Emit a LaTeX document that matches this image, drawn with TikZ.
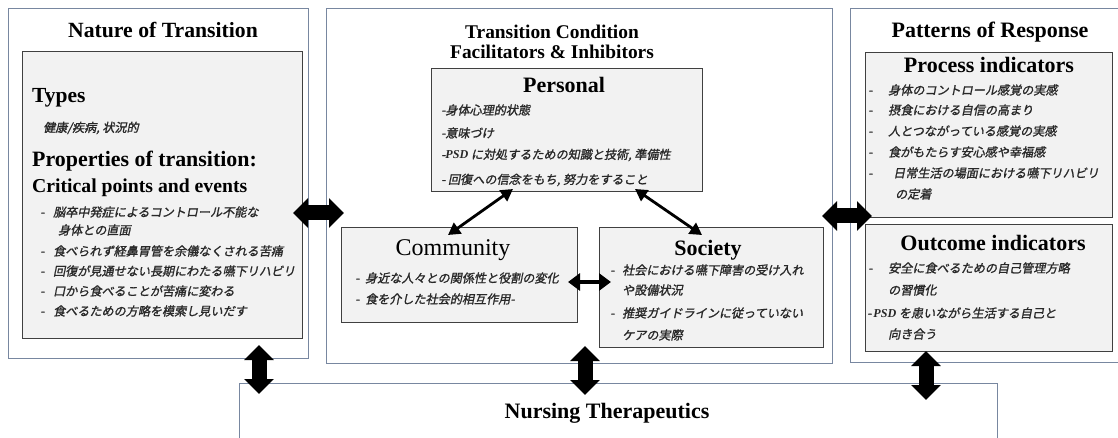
\documentclass[tikz,border=0pt]{standalone}
\usepackage{fontspec}
\setmainfont{Liberation Serif}
\newfontfamily\jp{Noto Sans CJK JP}[FakeSlant=0.2,FakeBold=1.3]
\usetikzlibrary{arrows.meta}
\definecolor{bord}{RGB}{120,135,160}
\definecolor{boxfill}{RGB}{242,242,242}
\definecolor{boxline}{RGB}{64,64,64}
\definecolor{jtext}{RGB}{40,40,40}
\newcommand\dsh{\makebox[13pt][l]{-}}
\newcommand\dshw{\makebox[20pt][l]{-}}
\newcommand\dshc{\makebox[10pt][l]{-}}
\newcommand\psd{{\rmfamily\bfseries\itshape PSD}}
\begin{document}
\begin{tikzpicture}[x=1pt,y=-1pt,
  outerbox/.style={draw=bord,line width=1.2pt,anchor=north west,inner sep=0pt},
  innerbox/.style={draw=boxline,fill=boxfill,line width=1.2pt,anchor=north west,inner sep=0pt},
  jt/.style={anchor=west,inner sep=0pt,text=jtext,font=\jp\fontsize{12.1}{14}\selectfont},
  head/.style={inner sep=0pt,font=\bfseries\fontsize{22}{24}\selectfont},
  fat/.style={line width=15pt,{Triangle[length=15pt,width=29pt]}-{Triangle[length=15pt,width=29pt]}},
  thin/.style={line width=2.8pt,{Triangle[length=12pt,width=13pt]}-{Triangle[length=12pt,width=13pt]}},
  thick/.style={line width=4pt,{Triangle[length=12pt,width=17pt]}-{Triangle[length=12pt,width=17pt]}}]
\useasboundingbox (0,0) rectangle (1118,438);
\fill[white] (0,0) rectangle (1118,438);

% outer boxes
\node[outerbox,minimum width=300pt,minimum height=350pt] (nature) at (8,8) {};
\node[outerbox,minimum width=506pt,minimum height=355pt] (cond) at (326,8) {};
\node[outerbox,minimum width=290pt,minimum height=354pt] (resp) at (850,8) {};
\node[outerbox,minimum width=758pt,minimum height=80pt] (nursing) at (239,383) {};

% inner boxes
\node[innerbox,minimum width=280pt,minimum height=287pt] (natin) at (22,51) {};
\node[innerbox,minimum width=271pt,minimum height=123pt] (personal) at (431,68) {};
\node[innerbox,minimum width=236pt,minimum height=95pt] (community) at (341,227) {};
\node[innerbox,minimum width=224pt,minimum height=120pt] (society) at (599,227) {};
\node[innerbox,minimum width=247pt,minimum height=165pt] (process) at (865,52) {};
\node[innerbox,minimum width=247pt,minimum height=127pt] (outcome) at (865,224) {};

% left column texts
\node[head,font=\bfseries\fontsize{21.7}{24}\selectfont] (tnat) at (163,30) {Nature of Transition};
\node[head,anchor=base west,font=\bfseries\fontsize{21.5}{24}\selectfont] (ttypes) at (32,103) {Types};
\node[jt] (j0) at (43,128) {健康/疾病, 状況的};
\node[head,anchor=base west,font=\bfseries\fontsize{21.9}{24}\selectfont] (tprop) at (32,167) {Properties of transition:};
\node[head,anchor=base west,font=\bfseries\fontsize{19.7}{22}\selectfont] (tcrit) at (32,193) {Critical points and events};
\node[jt] (j1) at (40,212) {\dsh 脳卒中発症によるコントロール不能な};
\node[jt] (j2) at (58,230) {身体との直面};
\node[jt] (j3) at (40,251) {\dsh 食べられず経鼻胃管を余儀なくされる苦痛};
\node[jt] (j4) at (40,271) {\dsh 回復が見通せない長期にわたる嚥下リハビリ};
\node[jt] (j5) at (40,291) {\dsh 口から食べることが苦痛に変わる};
\node[jt] (j6) at (40,311) {\dsh 食べるための方略を模索し見いだす};

% middle texts
\node[head,font=\bfseries\fontsize{19.4}{22}\selectfont] (tc1) at (552,32) {Transition Condition};
\node[head,font=\bfseries\fontsize{19.4}{22}\selectfont] (tc2) at (552,52) {Facilitators \& Inhibitors};
\node[head] (tpers) at (564,85) {Personal};
\node[jt] (p1) at (441,110) {-身体心理的状態};
\node[jt] (p2) at (441,133) {-意味づけ};
\node[jt] (p3) at (441,155) {-\psd\ に対処するための知識と技術, 準備性};
\node[jt] (p4) at (441,180) {- 回復への信念をもち, 努力をすること};
\node[head,font=\fontsize{24}{26}\selectfont] (tcomm) at (453,250) {Community};
\node[jt] (c1) at (355,278) {\dshc 身近な人々との関係性と役割の変化};
\node[jt] (c2) at (355,299) {\dshc 食を介した社会的相互作用-};
\node[head] (tsoc) at (708,250) {Society};
\node[jt] (s1) at (610,270) {\makebox[12pt][l]{-}社会における嚥下障害の受け入れ};
\node[jt] (s2) at (622,290) {や設備状況};
\node[jt] (s3) at (610,313) {\makebox[12pt][l]{-}推奨ガイドラインに従っていない};
\node[jt] (s4) at (622,335) {ケアの実際};

% right texts
\node[head] (tresp) at (990,32) {Patterns of Response};
\node[head] (tproc) at (989,65) {Process indicators};
\node[jt] (r1) at (868,90) {\dshw 身体のコントロール感覚の実感};
\node[jt] (r2) at (868,110) {\dshw 摂食における自信の高まり};
\node[jt] (r3) at (868,131) {\dshw 人とつながっている感覚の実感};
\node[jt] (r4) at (868,152) {\dshw 食がもたらす安心感や幸福感};
\node[jt] (r5) at (868,173) {\makebox[25pt][l]{-}日常生活の場面における嚥下リハビリ};
\node[jt] (r6) at (895,194) {の定着};
\node[head] (tout) at (993,243) {Outcome indicators};
\node[jt] (o1) at (868,268) {\dshw 安全に食べるための自己管理方略};
\node[jt] (o2) at (888,290) {の習慣化};
\node[jt] (o3) at (867,313) {-\,\psd\ を患いながら生活する自己と};
\node[jt] (o4) at (888,334) {向き合う};

% bottom
\node[head] (tnurs) at (607,413) {Nursing Therapeutics};

% connector end points
\coordinate (hl1) at (293,213); \coordinate (hl2) at (344,213);
\coordinate (hr1) at (822,216); \coordinate (hr2) at (872,216);
\coordinate (vl1) at (259,345); \coordinate (vl2) at (259,394);
\coordinate (vm1) at (585,346); \coordinate (vm2) at (585,395);
\coordinate (vr1) at (926,351); \coordinate (vr2) at (926,400);
\coordinate (pc1) at (513,189); \coordinate (pc2) at (448,235);
\coordinate (ps1) at (635,189); \coordinate (ps2) at (702,235);
\coordinate (cs1) at (568,282); \coordinate (cs2) at (611,282);

\draw[fat] (hl1) -- (hl2);
\draw[fat] (hr1) -- (hr2);
\draw[fat] (vl1) -- (vl2);
\draw[fat] (vm1) -- (vm2);
\draw[fat] (vr1) -- (vr2);
\draw[thin] (pc1) -- (pc2);
\draw[thin] (ps1) -- (ps2);
\draw[thick] (cs1) -- (cs2);
\end{tikzpicture}
\end{document}
